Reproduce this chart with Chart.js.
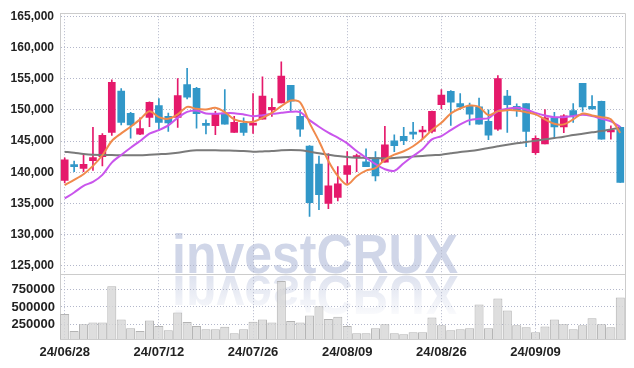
<!DOCTYPE html>
<html>
<head>
<meta charset="utf-8">
<script src="https://cdn.jsdelivr.net/npm/chart.js@4.4.1/dist/chart.umd.min.js"></script>
<style>
  html, body { margin: 0; padding: 0; background: #fff; }
  #chart { display: block; }
</style>
</head>
<body>
<canvas id="chart" width="634" height="368"></canvas>
<script>
/* DATA START */
const dates = [
  "24/06/28", "24/07/01", "24/07/02", "24/07/03", "24/07/04", "24/07/05",
  "24/07/08", "24/07/09", "24/07/10", "24/07/11", "24/07/12",
  "24/07/15", "24/07/16", "24/07/17", "24/07/18", "24/07/19",
  "24/07/22", "24/07/23", "24/07/24", "24/07/25", "24/07/26",
  "24/07/29", "24/07/30", "24/07/31", "24/08/01", "24/08/02",
  "24/08/05", "24/08/06", "24/08/07", "24/08/08", "24/08/09",
  "24/08/12", "24/08/13", "24/08/14", "24/08/16",
  "24/08/19", "24/08/20", "24/08/21", "24/08/22", "24/08/23",
  "24/08/26", "24/08/27", "24/08/28", "24/08/29", "24/08/30",
  "24/09/02", "24/09/03", "24/09/04", "24/09/05", "24/09/06",
  "24/09/09", "24/09/10", "24/09/11", "24/09/12", "24/09/13",
  "24/09/19", "24/09/20", "24/09/23", "24/09/24", "24/09/25",
];

const priceTicks = [125000, 130000, 135000, 140000, 145000, 150000, 155000, 160000, 165000];
const volumeTicks = [250000, 500000, 750000];

const openPrices = [
  138700, 141100, 140600, 141850, 142500, 146400, 153000, 149450, 146100, 148800,
  150700, 148950, 148800, 154050, 153450, 147650, 147450, 149500, 146400, 147850,
  147550, 148500, 150000, 151100, 153950, 148950, 144200, 141300, 135000, 135950,
  139650, 142350, 141650, 142350, 141600, 145050, 145750, 146250, 146450, 146550,
  150850, 152950, 151000, 150550, 150500, 148150, 146900, 152200, 150550, 151000,
  143150, 144550, 148700, 147250, 149900, 154250, 150550, 151350, 146450, 147200,
];
const highPrices = [
  142300, 141800, 142800, 147200, 146200, 154800, 153400, 149600, 148700, 151300,
  151800, 149500, 155000, 156650, 153600, 148400, 149750, 153250, 148950, 148700,
  152600, 155300, 151800, 157700, 153950, 150000, 144250, 142600, 143000, 140900,
  143300, 142900, 143750, 143300, 147350, 146000, 147200, 148000, 147350, 149800,
  153250, 153100, 152600, 151100, 151900, 150000, 155500, 153150, 150950, 151000,
  145850, 150050, 149600, 149250, 151000, 154250, 152300, 151400, 147450, 147300,
];
const lowPrices = [
  138300, 140100, 140100, 140300, 141000, 145900, 147600, 145450, 146000, 147300,
  146700, 146550, 147200, 151750, 147050, 146150, 146000, 147700, 146400, 145900,
  146200, 148500, 148950, 151100, 149750, 145750, 132900, 134000, 134150, 135400,
  138200, 140100, 140900, 138600, 141600, 143300, 144400, 145350, 145350, 146300,
  150200, 147500, 150050, 147600, 147700, 145200, 146700, 146400, 148950, 144100,
  142850, 144550, 145450, 146350, 148000, 149750, 150100, 145300, 145300, 138350,
];
const closePrices = [
  142000, 140900, 141250, 142350, 145900, 154400, 148000, 147600, 147000, 151200,
  148000, 147900, 152300, 152050, 149400, 147500, 149400, 147700, 148000, 146400,
  147850, 152200, 150400, 155400, 151400, 146900, 135100, 136400, 137800, 138150,
  141050, 142650, 140900, 139400, 144400, 144250, 145050, 146100, 146700, 149750,
  152350, 151250, 150450, 149300, 147700, 145950, 155000, 150850, 149850, 146550,
  145450, 148700, 147250, 149050, 149050, 150450, 150150, 145300, 146700, 138350,
];

const volumes = [
  397000, 154000, 250000, 278000, 278000, 797000, 321000, 193000, 154000, 307000,
  226000, 164000, 421000, 283000, 226000, 181000, 179000, 216000, 121000, 179000,
  287000, 321000, 278000, 873000, 297000, 278000, 378000, 511000, 326000, 359000,
  226000, 121000, 121000, 193000, 250000, 121000, 107000, 138000, 136000, 350000,
  236000, 164000, 179000, 193000, 536000, 193000, 621000, 450000, 236000, 207000,
  136000, 221000, 321000, 250000, 179000, 236000, 336000, 250000, 207000, 636000,
];

const ma5 = [
  137930, 138770, 139680, 141010, 142720, 145000, 146230, 147290, 148470, 149790,
  148830, 148560, 149270, 150480, 150160, 150060, 150320, 149630, 148470, 148080,
  148080, 148720, 149520, 150590, 151500, 151200, 147920, 145000, 141810, 139410,
  138000, 139360, 140260, 140640, 142020, 142810, 143360, 144160, 145320, 146760,
  147920, 149420, 150220, 150700, 150480, 149150, 149790, 149950, 149900, 149630,
  149270, 148470, 147760, 147670, 148470, 149420, 149100, 148830, 148470, 146300,
];
const ma10 = [
  135790, 136750, 137810, 138450, 139570, 141540, 142770, 143930, 145000, 146170,
  146760, 147510, 148720, 149680, 149900, 149420, 149360, 149470, 149470, 149270,
  148990, 149150, 149360, 149520, 149680, 149630, 148350, 147290, 146330, 145530,
  144630, 143400, 142330, 141280, 140480, 140210, 141440, 142600, 143680, 145270,
  145800, 146760, 147670, 148350, 148560, 148670, 149790, 150160, 150320, 150060,
  149520, 149100, 148830, 148830, 148990, 149200, 148990, 148560, 148150, 147240,
];
const ma60 = [
  143290, 143130, 142930, 142810, 142770, 142740, 142720, 142720, 142720, 142800,
  142880, 142970, 143130, 143360, 143520, 143520, 143520, 143480, 143450, 143400,
  143290, 143340, 143400, 143520, 143570, 143520, 143290, 143030, 142810, 142600,
  142440, 142330, 142290, 142240, 142240, 142290, 142400, 142500, 142600, 142720,
  142810, 143030, 143240, 143400, 143610, 143880, 144150, 144410, 144630, 144840,
  145050, 145270, 145480, 145690, 145960, 146170, 146390, 146600, 146870, 147130,
];
/* DATA END */

const UP_COLOR = "#e5196b";
const DOWN_COLOR = "#3197c8";
const GRID_COLOR = "#b3b7ca";
const GRID_DASH = [1, 2];
const FRAME_COLOR = "#cccccc";
const TEXT_COLOR = "#222222";

const candleColors = closePrices.map((c, i) => (c >= openPrices[i] ? UP_COLOR : DOWN_COLOR));
const bodyRanges = openPrices.map((o, i) => [o, closePrices[i]]);
const wickRanges = lowPrices.map((l, i) => [l, highPrices[i]]);

// replace the generated ticks with a fixed list
const useTicks = (list) => (axis) => {
  axis.ticks = list.map((value) => ({ value }));
};

const watermark = {
  id: "watermark",
  beforeDraw(chart) {
    const { ctx } = chart;
    ctx.save();
    ctx.fillStyle = "#fff";
    ctx.fillRect(0, 0, chart.width, chart.height);
    ctx.font = "bold 56px 'Liberation Sans', Arial, sans-serif";
    const text = "investCRUX";
    const sx = 286 / ctx.measureText(text).width;
    ctx.translate(172, 273);
    ctx.scale(sx, 1);
    ctx.fillStyle = "rgb(208, 214, 232)";
    ctx.fillText(text, 0, 0);
    // reflection
    ctx.scale(1, -1);
    const grad = ctx.createLinearGradient(0, -3, 0, -46);
    grad.addColorStop(0, "rgba(208, 214, 232, 0.7)");
    grad.addColorStop(1, "rgba(208, 214, 232, 0.05)");
    ctx.fillStyle = grad;
    ctx.fillText(text, 0, -3);
    ctx.restore();
  },
};

const panelFrame = {
  id: "panelFrame",
  afterDraw(chart) {
    const { ctx, chartArea } = chart;
    const divider = Math.round(chart.scales.y.bottom) + 0.5;
    const top = Math.round(chartArea.top) + 0.5;
    const right = Math.round(chartArea.right) + 0.5;
    ctx.save();
    ctx.strokeStyle = FRAME_COLOR;
    ctx.lineWidth = 1;
    ctx.beginPath();
    ctx.moveTo(chartArea.left, top);
    ctx.lineTo(right, top);
    ctx.lineTo(right, chartArea.bottom);
    ctx.moveTo(chartArea.left, divider);
    ctx.lineTo(right, divider);
    ctx.stroke();
    ctx.restore();
  },
};

const axisFont = { family: "'Liberation Sans', Arial, sans-serif", size: 13, weight: "bold" };

new Chart(document.getElementById("chart"), {
  type: "bar",
  data: {
    labels: dates,
    datasets: [
      {
        type: "line", data: ma5, yAxisID: "y", borderColor: "#f08a4c",
        borderWidth: 2, pointRadius: 0, tension: 0.3, order: 0,
      },
      {
        type: "line", data: ma10, yAxisID: "y", borderColor: "#c955ec",
        borderWidth: 2, pointRadius: 0, tension: 0.3, order: 0,
      },
      {
        type: "line", data: ma60, yAxisID: "y", borderColor: "#7a7a7a",
        borderWidth: 2, pointRadius: 0, tension: 0.3, order: 0,
      },
      {
        data: bodyRanges, yAxisID: "y", backgroundColor: candleColors,
        barThickness: 7, minBarLength: 2, grouped: false, order: 1,
      },
      {
        data: wickRanges, yAxisID: "y", backgroundColor: candleColors,
        barThickness: 1, grouped: false, order: 2,
      },
      {
        data: volumes, yAxisID: "volume", backgroundColor: "rgba(214, 214, 214, 0.8)",
        borderColor: "#b4b4b4", borderWidth: 1, barPercentage: 1,
        categoryPercentage: 0.96, grouped: false, order: 3,
      },
    ],
  },
  options: {
    responsive: false,
    animation: false,
    layout: { padding: { top: 11, right: 9, bottom: 0, left: 0 } },
    plugins: { legend: { display: false }, tooltip: { enabled: false } },
    scales: {
      x: {
        offset: true,
        afterBuildTicks: (axis) => {
          axis.ticks = axis.ticks.filter((t) => t.value % 10 === 0);
        },
        afterFit: (axis) => { axis.height = 29; },
        ticks: { autoSkip: false, maxRotation: 0, padding: 6, color: TEXT_COLOR, font: axisFont },
        grid: { offset: false, color: GRID_COLOR, drawTicks: false },
        border: { color: FRAME_COLOR, dash: GRID_DASH },
      },
      volume: {
        position: "left",
        stack: "panels",
        stackWeight: 1,
        min: 40000,
        max: 975000,
        afterBuildTicks: useTicks(volumeTicks),
        afterFit: (axis) => { axis.width = 60; },
        ticks: { autoSkip: false, padding: 5, color: TEXT_COLOR, font: axisFont, callback: (v) => String(v) },
        grid: { color: GRID_COLOR, drawTicks: false },
        border: { color: FRAME_COLOR, dash: GRID_DASH },
      },
      y: {
        position: "left",
        stack: "panels",
        stackWeight: 4,
        min: 123700,
        max: 165500,
        afterBuildTicks: useTicks(priceTicks),
        afterFit: (axis) => { axis.width = 60; },
        ticks: {
          autoSkip: false, padding: 6, color: TEXT_COLOR,
          font: { family: "'Liberation Sans', Arial, sans-serif", size: 12, weight: "bold" },
          callback: (v) => v.toLocaleString("en-US"),
        },
        grid: { color: GRID_COLOR, drawTicks: false },
        border: { color: FRAME_COLOR, dash: GRID_DASH },
      },
    },
  },
  plugins: [watermark, panelFrame],
});
</script>
</body>
</html>
